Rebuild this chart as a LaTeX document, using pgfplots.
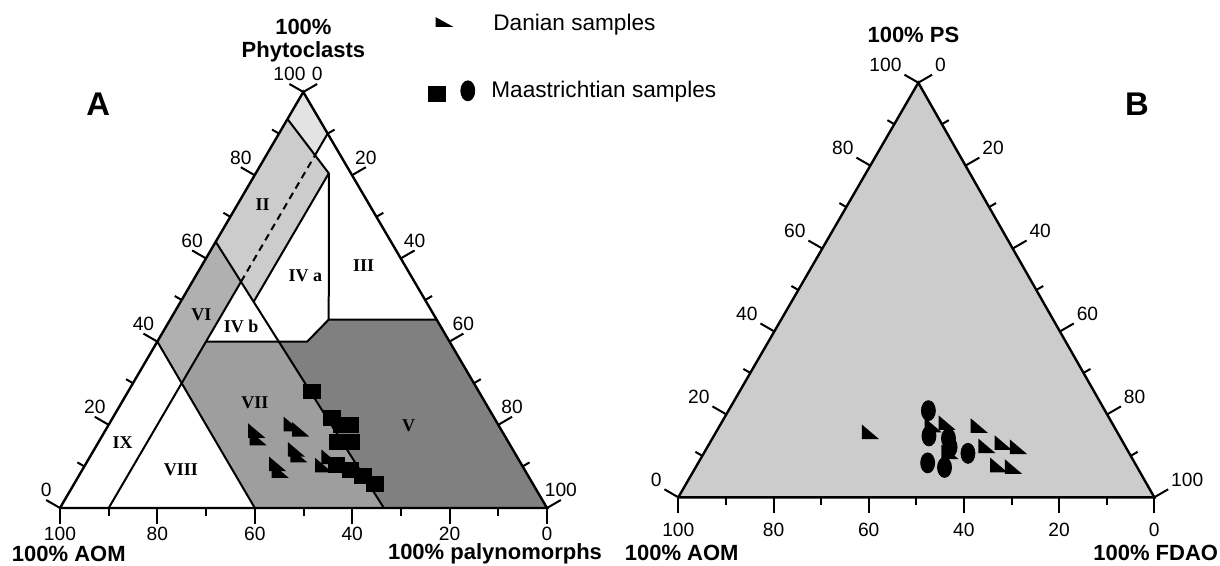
\documentclass[border=0pt]{standalone}
\usepackage{fontspec}
\setmainfont{Liberation Sans}
\newfontfamily\timesf{Liberation Serif}
\usepackage{pgfplots}
\usepackage{pgfplotstable}
\pgfplotsset{compat=1.18}

\definecolor{fieldI}{gray}{0.89}
\definecolor{fieldII}{gray}{0.80}
\definecolor{fieldVI}{gray}{0.69}
\definecolor{fieldVII}{gray}{0.62}
\definecolor{fieldV}{gray}{0.50}
\definecolor{fillB}{gray}{0.80}

% right triangle, right angle at lower left
\pgfdeclareplotmark{rtri}{%
  \pgfpathmoveto{\pgfqpoint{-\pgfplotmarksize}{\pgfplotmarksize}}%
  \pgfpathlineto{\pgfqpoint{-\pgfplotmarksize}{-\pgfplotmarksize}}%
  \pgfpathlineto{\pgfqpoint{\pgfplotmarksize}{-\pgfplotmarksize}}%
  \pgfpathclose
  \pgfusepathqfill
}

% ternary -> picture position. f = top corner %, p = right corner %
\pgfplotsset{
  /pgfplots/table/terA/.style={x expr={60+4.87*\thisrow{p}+2.433*\thisrow{f}}, y expr={508-4.16*\thisrow{f}}},
  /pgfplots/table/terB/.style={x expr={678.3+4.76*\thisrow{p}+2.40*\thisrow{f}}, y expr={497.3-4.146*\thisrow{f}}},
  edge/.style={black, line width=1.2pt, no markers},
  bound/.style={black, line width=1pt, no markers},
  danian/.style={only marks, mark=rtri, mark size=4.3pt, mark options={fill=black, yscale=0.85}},
  maasq/.style={only marks, mark=square*, mark size=4.2pt, mark options={draw=black, fill=black, yscale=0.87}},
  maaci/.style={only marks, mark=*, mark size=5pt, mark options={draw=black, fill=black, xscale=0.7}},
}
\tikzset{
  tk/.style={black, line width=1pt},
  tl/.style={font=\fontsize{9.6}{10}\selectfont, inner sep=1pt},
  numeral/.style={font=\timesf\bfseries\fontsize{9}{10}\selectfont, inner sep=0pt},
  ttl/.style={font=\bfseries\fontsize{11}{12}\selectfont, inner sep=0pt, anchor=base},
}

% A: AOM / Phytoclasts (f) / palynomorphs (p)
\pgfplotstableread{
a f p
50.3 18.6 31.1
50.9 16.8 32.3
42.2 20.2 37.6
41.1 18.9 40.0
44.4 14.1 41.5
44.6 12.7 42.7
50.0 10.6 39.4
50.3 9.0 40.7
40.7 10.3 49.0
38.4 12.3 49.3
}\danA
\pgfplotstableread{
a f p
34.3 28.0 37.7
33.4 21.6 45.0
32.2 20.0 47.8
30.5 20.0 49.5
34.9 15.9 49.2
32.3 15.9 51.8
38.1 10.3 51.6
35.8 9.1 55.1
33.9 7.7 58.4
32.4 5.8 61.8
}\maaA
% B: AOM / PS (f) / FDAO (p)
\pgfplotstableread{
a f p
51.8 15.8 32.4
34.6 18.0 47.4
28.2 17.3 54.5
29.0 12.4 58.6
25.2 13.2 61.6
22.5 12.2 65.3
28.8 7.8 63.4
25.9 7.4 66.7
37.5 11.0 51.5
37.8 17.4 44.8
}\danB
\pgfplotstableread{
a f p
37.1 20.9 42.0
40.0 14.8 45.2
36.2 14.2 49.6
33.9 10.6 55.5
43.5 8.3 48.2
40.5 7.2 52.3
36.9 12.1 51.0
}\maaB

\begin{document}
\begin{tikzpicture}
\begin{axis}[x=0.5pt, y=0.5pt, xmin=0, xmax=1220, ymin=0, ymax=566, y dir=reverse,
  hide axis, clip=false, anchor=south west, at={(0,0)}]
\path (rel axis cs:0,0) rectangle (rel axis cs:1,1);

% ---------- panel A fields
\addplot[fill=fieldI, draw=none] table[terA] {
f p
100 0
93.5 0
84.79 10
90 10
};
\addplot[fill=fieldII, draw=none] table[terA] {
f p
64 0
93.5 0
80.46 15
49.57 15
};
\addplot[fill=fieldVI, draw=none] table[terA] {
f p
40 0
64 0
54.38 10
30 10
};
\addplot[fill=fieldVII, draw=none] table[terA] {
f p
40 10
40 24.94
0 66.5
0 40
30 10
};
\addplot[fill=fieldV, draw=none] table[terA] {
f p
40 30.78
45.3 32.55
45.3 54.7
0 100
0 66.5
40 24.94
};

% field boundaries
\addplot[bound] table[terA] {
f p
93.5 0
80.46 15
45.3 32.55
45.3 54.7
};
\addplot[bound] table[terA] {
f p
45.3 32.55
40 30.78
40 10
};
\addplot[bound] table[terA] {
f p
80.46 15
49.57 15
};
\addplot[bound] table[terA] {
f p
64 0
0 66.5
};
\addplot[bound] table[terA] {
f p
40 0
0 40
};
\addplot[bound] table[terA] {
f p
0 10
54.38 10
};
\addplot[bound, dash pattern=on 3.5pt off 2.5pt] table[terA] {
f p
54.38 10
84.79 10
};
\addplot[bound] table[terA] {
f p
84.79 10
90 10
};
\addplot[edge] table[terA] {
f p
0 0
0 100
100 0
0 0
};

% ticks A
\pgfplotsinvokeforeach{0,20,40,60,80,100}{%
  \draw[tk] (axis cs:{60+4.87*(100-#1)},508) -- ++(0,-8pt) node[tl, anchor=north] {#1};
  \draw[tk] (axis cs:{60+2.433*#1},{508-4.16*#1}) -- ++(150:8pt) node[tl, anchor=south] {#1};
  \draw[tk] (axis cs:{303.3+2.437*#1},{92+4.16*#1}) -- ++(30:8pt) node[tl, anchor=south] {#1};
}
\pgfplotsinvokeforeach{10,30,50,70,90}{%
  \draw[tk] (axis cs:{60+4.87*(100-#1)},508) -- ++(0,-4pt);
  \draw[tk] (axis cs:{60+2.433*#1},{508-4.16*#1}) -- ++(150:4pt);
  \draw[tk] (axis cs:{303.3+2.437*#1},{92+4.16*#1}) -- ++(30:4pt);
}

% field names
\node[numeral] at (axis cs:262.6,205) {II};
\node[numeral] at (axis cs:363.7,265.3) {III};
\node[numeral] at (axis cs:305.4,276.2) {IV a};
\node[numeral] at (axis cs:241.2,326.7) {IV b};
\node[numeral] at (axis cs:201.5,314.8) {VI};
\node[numeral] at (axis cs:254.8,402.5) {VII};
\node[numeral] at (axis cs:408.5,426) {V};
\node[numeral] at (axis cs:122.5,442.2) {IX};
\node[numeral] at (axis cs:180.9,469.3) {VIII};

% samples A
\addplot[danian] table[terA] {\danA};
\addplot[maasq] table[terA] {\maaA};

% titles A
\node[ttl] at (axis cs:303.4,34.3) {100\%};
\node[ttl] at (axis cs:303.4,57.8) {Phytoclasts};
\node[ttl] at (axis cs:68.8,561.5) {100\% AOM};
\node[ttl] at (axis cs:495,559) {100\% palynomorphs};
\node[font=\bfseries\fontsize{16.4}{18}\selectfont, inner sep=0pt, anchor=base] at (axis cs:98.2,115.5) {A};

% ---------- panel B
\addplot[fill=fillB, draw=none] table[terB] {
f p
0 0
0 100
100 0
};
\addplot[edge] table[terB] {
f p
0 0
0 100
100 0
0 0
};
\pgfplotsinvokeforeach{0,20,40,60,80,100}{%
  \draw[tk] (axis cs:{678.3+4.76*(100-#1)},497.3) -- ++(0,-8pt) node[tl, anchor=north, yshift=-3.5pt] {#1};
  \draw[tk] (axis cs:{678.3+2.40*#1},{497.3-4.146*#1}) -- ++(150:8pt) node[tl, anchor=south east] {#1};
  \draw[tk] (axis cs:{918.3+2.36*#1},{82.7+4.146*#1}) -- ++(30:8pt) node[tl, anchor=south west] {#1};
}
\pgfplotsinvokeforeach{10,30,50,70,90}{%
  \draw[tk] (axis cs:{678.3+4.76*(100-#1)},497.3) -- ++(0,-4pt);
  \draw[tk] (axis cs:{678.3+2.40*#1},{497.3-4.146*#1}) -- ++(150:4pt);
  \draw[tk] (axis cs:{918.3+2.36*#1},{82.7+4.146*#1}) -- ++(30:4pt);
}
\addplot[maaci] table[terB] {\maaB};
\addplot[danian] table[terB] {\danB};

\node[ttl] at (axis cs:913.4,42.6) {100\% PS};
\node[ttl] at (axis cs:681.7,560.7) {100\% AOM};
\node[ttl] at (axis cs:1155.7,560.7) {100\% FDAO};
\node[font=\bfseries\fontsize{16.4}{18}\selectfont, inner sep=0pt, anchor=base] at (axis cs:1137,115.5) {B};

% ---------- legend
\addplot[only marks, mark=rtri, mark size=4.4pt, mark options={fill=black, yscale=0.55}] coordinates {(444.5,22)};
\addplot[maasq] coordinates {(436.7,93.8)};
\addplot[maaci] coordinates {(467.8,90.8)};
\node[font=\fontsize{11.3}{13}\selectfont, inner sep=0pt, anchor=base west] at (axis cs:493,30.7) {Danian samples};
\node[font=\fontsize{11.3}{13}\selectfont, inner sep=0pt, anchor=base west] at (axis cs:491,97.5) {Maastrichtian samples};
\end{axis}
\end{tikzpicture}
\end{document}
